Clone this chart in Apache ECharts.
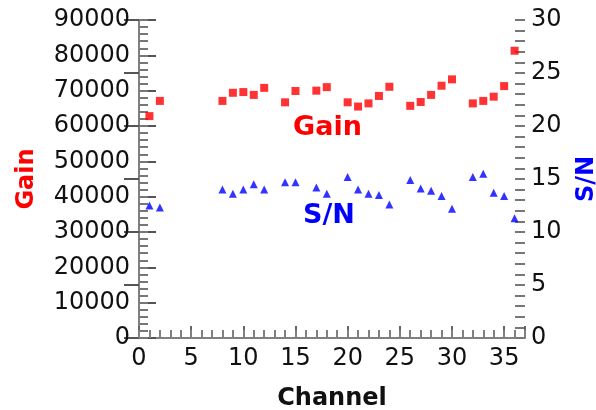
<!DOCTYPE html>
<html>
<head>
<meta charset="utf-8">
<script src="https://cdn.jsdelivr.net/npm/echarts@6/dist/echarts.min.js"></script>
<style>html,body{margin:0;padding:0;background:#fff}#c{width:596px;height:410px}</style>
</head>
<body>
<div id="c"></div>
<script>
var gainChannels = [1,2,8,9,10,11,12,14,15,17,18,20,21,22,23,24,26,27,28,29,30,32,33,34,35,36];
var gainValues = [62800,67100,67100,69400,69600,68800,70800,66700,69900,70000,71000,66700,65500,66400,68500,71100,65700,66800,68800,71400,73200,66400,67100,68300,71300,81300];
var snChannels = [1,2,8,9,10,11,12,14,15,17,18,20,21,22,23,24,26,27,28,29,30,32,33,34,35,36];
var snValues = [12.5,12.3,14.0,13.6,14.0,14.5,14.0,14.7,14.7,14.2,13.6,15.2,14.0,13.6,13.5,12.6,14.9,14.1,13.9,13.4,12.2,15.2,15.5,13.7,13.4,11.3];
var xTicks = [0,5,10,15,20,25,30,35];
var gainTicks = [0,10000,20000,30000,40000,50000,60000,70000,80000,90000];
var snTicks = [0,5,10,15,20,25,30];

var FONT = 'DejaVu Sans';
var chart = echarts.init(document.getElementById('c'), null, {renderer:'canvas'});
function zip(a,b){return a.map(function(v,i){return [v,b[i]];});}
function minorAxis(pos,max,interval,len,color){
  return {type:'value',min:0,max:max,interval:interval,position:pos,
    axisLine:{show:false},
    axisTick:{inside:true,length:len,lineStyle:{color:color,width:2}},
    axisLabel:{show:false},splitLine:{show:false}};
}
chart.setOption({
  animation:false,
  backgroundColor:'#fff',
  grid:{left:139,right:71,top:20,bottom:72,containLabel:false,outerBoundsMode:'none'},
  xAxis:[{
    type:'value',min:0,max:37,interval:5,
    axisLine:{lineStyle:{color:'#808080',width:2}},
    axisTick:{inside:true,length:12,lineStyle:{color:'#666',width:2}},
    axisLabel:{fontFamily:FONT,fontSize:24,color:'#111',margin:9,
      formatter:function(v){return xTicks.indexOf(v)>=0?String(v):'';}},
    splitLine:{show:false},
    name:'Channel',nameLocation:'middle',nameGap:49,
    nameTextStyle:{fontFamily:FONT,fontSize:24,fontWeight:'bold',color:'#111'}
  }, minorAxis('bottom',37,1,8,'#808080')],
  yAxis:[{
    type:'value',min:0,max:90000,interval:10000,position:'left',
    axisLine:{show:true,lineStyle:{color:'#000',width:2}},
    axisTick:{inside:true,length:17,lineStyle:{color:'#555',width:2}},
    axisLabel:{fontFamily:FONT,fontSize:24,color:'#111',margin:9,
      formatter:function(v){return gainTicks.indexOf(v)>=0?String(v):'';}},
    splitLine:{show:false},
    name:'Gain',nameLocation:'middle',nameGap:100,nameRotate:90,
    nameTextStyle:{fontFamily:FONT,fontSize:24,fontWeight:'bold',color:'#ff0000'}
  },{
    type:'value',min:0,max:30,interval:5,position:'right',
    axisLine:{show:true,lineStyle:{color:'#808080',width:2}},
    axisTick:{inside:true,length:15,lineStyle:{color:'#555',width:2}},
    axisLabel:{fontFamily:FONT,fontSize:24,color:'#111',margin:6,
      formatter:function(v){return snTicks.indexOf(v)>=0?String(v):'';}},
    splitLine:{show:false},
    name:'S/N',nameLocation:'middle',nameGap:50,nameRotate:90,
    nameTextStyle:{fontFamily:FONT,fontSize:24,fontWeight:'bold',color:'#0000ff'}
  }, minorAxis('left',90000,2000,9,'#777'), minorAxis('right',30,1,10,'#777')],
  graphic:[
    {type:'text',left:293,top:114,style:{text:'Gain',fontFamily:FONT,fontSize:27,fontWeight:'bold',fill:'#ff0000'}},
    {type:'text',left:303,top:202,style:{text:'S/N',fontFamily:FONT,fontSize:27,fontWeight:'bold',fill:'#0000ff'}}
  ],
  series:[{
    type:'scatter',xAxisIndex:0,yAxisIndex:0,data:zip(gainChannels,gainValues),
    symbol:'rect',symbolSize:8,itemStyle:{color:'#ff0000'}
  },{
    type:'scatter',xAxisIndex:0,yAxisIndex:1,data:zip(snChannels,snValues),
    symbol:'triangle',symbolSize:8,itemStyle:{color:'#0000ff'}
  }]
});
</script>
</body>
</html>
